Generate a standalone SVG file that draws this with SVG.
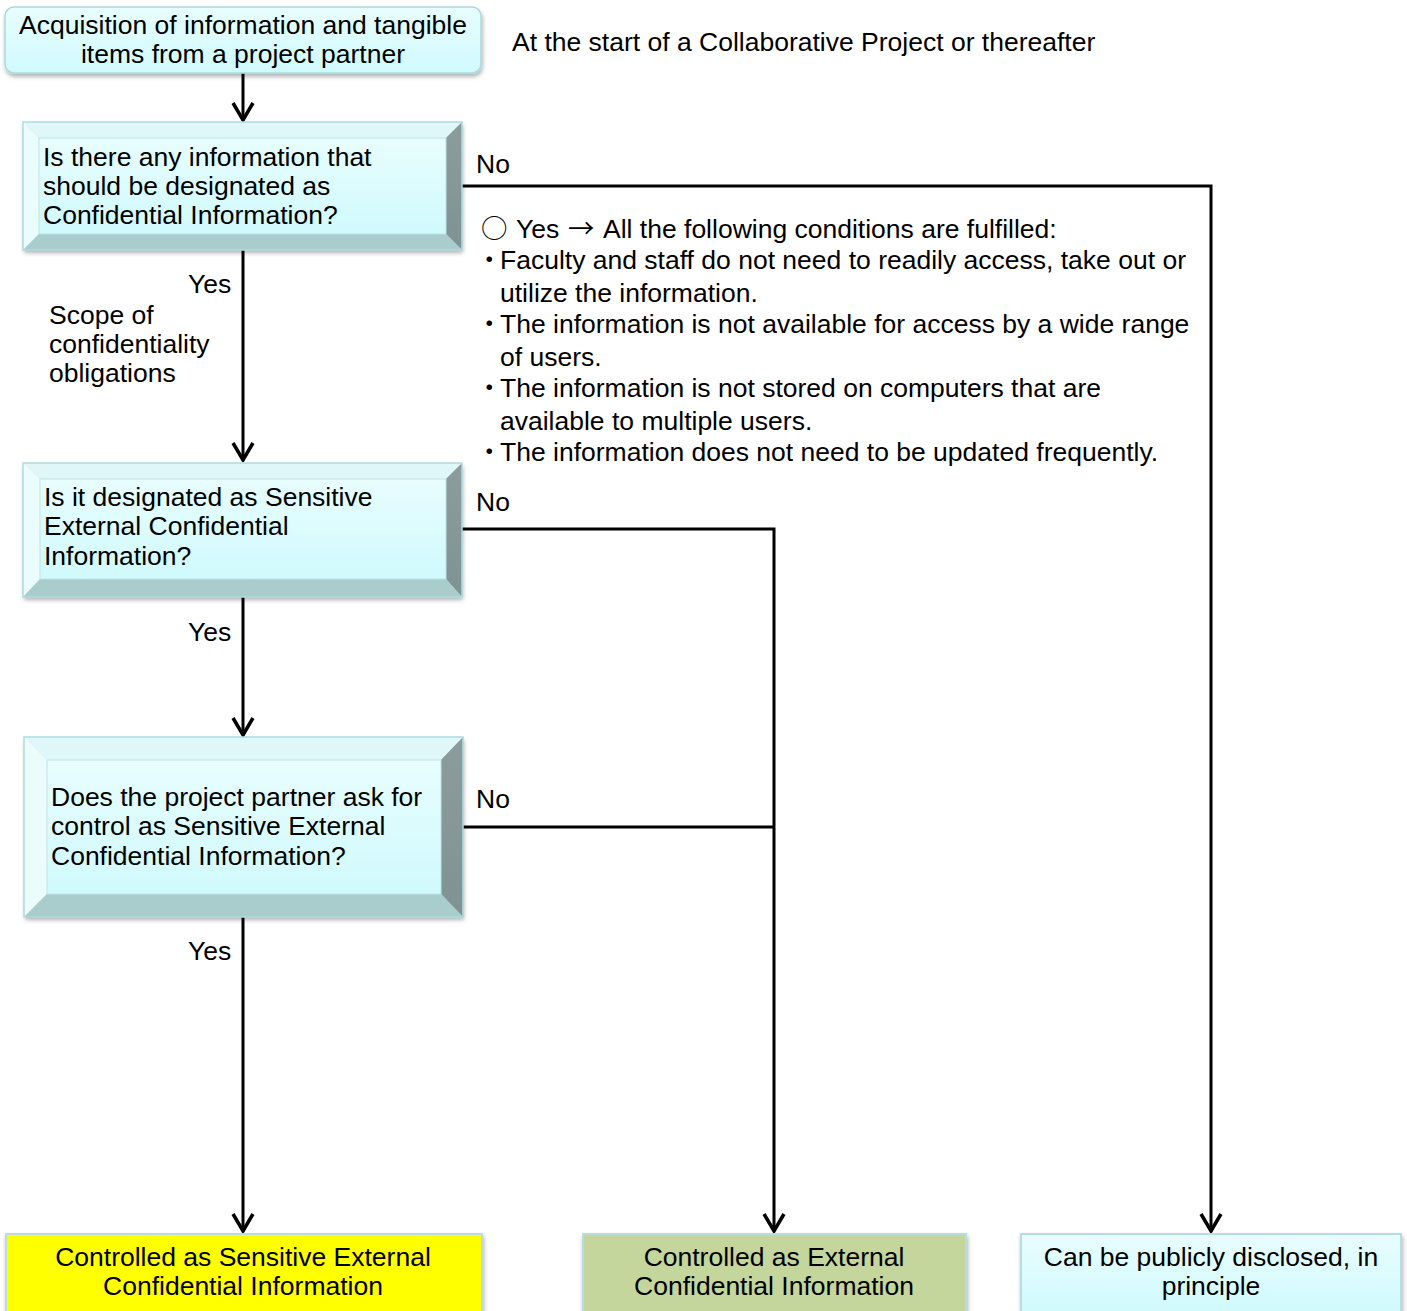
<svg xmlns="http://www.w3.org/2000/svg" width="1407" height="1311" viewBox="0 0 1407 1311">
<defs>
<linearGradient id="cyanG" x1="0" y1="0" x2="0" y2="1"><stop offset="0" stop-color="#e8fdfe"/><stop offset="1" stop-color="#d0fafd"/></linearGradient>
<linearGradient id="rightG" x1="0" y1="0" x2="0" y2="1"><stop offset="0" stop-color="#8c9c9c"/><stop offset="1" stop-color="#7f9394"/></linearGradient>
<filter id="sh" x="-5%" y="-5%" width="110%" height="120%"><feDropShadow dx="1" dy="3" stdDeviation="2" flood-color="#000" flood-opacity="0.3"/></filter>
<marker id="ah" viewBox="-20 -12 22 24" refX="0" refY="0" markerWidth="22" markerHeight="24" markerUnits="userSpaceOnUse" orient="auto">
<path d="M-17,-10 L0,0 L-17,10" fill="none" stroke="#000" stroke-width="3.5"/>
</marker>
<style>
text{font-family:"Liberation Sans",Arial,sans-serif;font-size:26.5px;fill:#000}
.c{text-anchor:middle}
.line{fill:none;stroke:#000;stroke-width:3}
.top{fill:#dff7f8}
.left{fill:#ebfcfc}
.right{fill:url(#rightG)}
.bot{fill:#a9cdcd}
.inner{fill:url(#cyanG);stroke:#bfe3e5;stroke-width:1}
.outer{fill:none;stroke:#b0dcde;stroke-width:1.5}
.cjk{font-family:"Noto Sans CJK JP","Liberation Sans",sans-serif}
</style>
</defs>
<rect width="1407" height="1311" fill="#fff"/>

<g id="connectors">
<line class="line" x1="243" y1="73" x2="243" y2="120" marker-end="url(#ah)"/>
<line class="line" x1="243" y1="250" x2="243" y2="460" marker-end="url(#ah)"/>
<line class="line" x1="243" y1="597" x2="243" y2="735" marker-end="url(#ah)"/>
<line class="line" x1="243" y1="917" x2="243" y2="1231" marker-end="url(#ah)"/>
<polyline class="line" points="462,186 1211,186 1211,1231" marker-end="url(#ah)"/>
<polyline class="line" points="462,529 774,529 774,1231" marker-end="url(#ah)"/>
<line class="line" x1="463" y1="827" x2="774" y2="827"/>
</g>

<g id="start">
<rect x="5" y="7" width="476" height="66" rx="9" fill="url(#cyanG)" stroke="#acd9dc" stroke-width="1.5" filter="url(#sh)"/>
<text class="c" x="243" y="34">Acquisition of information and tangible</text>
<text class="c" x="243" y="63">items from a project partner</text>
</g>

<g id="note-start"><text x="512" y="51">At the start of a Collaborative Project or thereafter</text></g>

<g id="q1">
<g filter="url(#sh)">
<polygon class="top" points="23,122 462,122 446,138 39,138"/>
<polygon class="left" points="23,122 39,138 39,234 23,250"/>
<polygon class="right" points="462,122 462,250 446,234 446,138"/>
<polygon class="bot" points="23,250 39,234 446,234 462,250"/>
</g>
<rect class="inner" x="39" y="138" width="407" height="96"/>
<rect class="outer" x="23" y="122" width="439" height="128"/>
<text x="43" y="166">Is there any information that</text>
<text x="43" y="195">should be designated as</text>
<text x="43" y="224">Confidential Information?</text>
</g>

<g id="q2">
<g filter="url(#sh)">
<polygon class="top" points="23,463 462,463 446,479 40,479"/>
<polygon class="left" points="23,463 40,479 40,579 23,597"/>
<polygon class="right" points="462,463 462,597 446,579 446,479"/>
<polygon class="bot" points="23,597 40,579 446,579 462,597"/>
</g>
<rect class="inner" x="40" y="479" width="406" height="100"/>
<rect class="outer" x="23" y="463" width="439" height="134"/>
<text x="44" y="506">Is it designated as Sensitive</text>
<text x="44" y="535">External Confidential</text>
<text x="44" y="565">Information?</text>
</g>

<g id="q3">
<g filter="url(#sh)">
<polygon class="top" points="24,737 463,737 441,760 47,760"/>
<polygon class="left" points="24,737 47,760 47,894 24,917"/>
<polygon class="right" points="463,737 463,917 441,894 441,760"/>
<polygon class="bot" points="24,917 47,894 441,894 463,917"/>
</g>
<rect class="inner" x="47" y="760" width="394" height="134"/>
<rect class="outer" x="24" y="737" width="439" height="180"/>
<text x="51" y="806">Does the project partner ask for</text>
<text x="51" y="835">control as Sensitive External</text>
<text x="51" y="865">Confidential Information?</text>
</g>

<g id="labels">
<text x="476" y="173">No</text>
<text x="476" y="511">No</text>
<text x="476" y="808">No</text>
<text x="188" y="293">Yes</text>
<text x="188" y="641">Yes</text>
<text x="188" y="960">Yes</text>
<text x="49" y="324">Scope of</text>
<text x="49" y="353">confidentiality</text>
<text x="49" y="382">obligations</text>
</g>

<g id="conditions">
<text x="481" y="238"><tspan class="cjk">○</tspan><tspan x="516">Yes</tspan><tspan class="cjk" x="568">→</tspan><tspan x="603">All the following conditions are fulfilled:</tspan></text>
<text x="476" y="269"><tspan class="cjk">・</tspan><tspan x="500">Faculty and staff do not need to readily access, take out or</tspan></text>
<text x="500" y="302">utilize the information.</text>
<text x="476" y="333"><tspan class="cjk">・</tspan><tspan x="500">The information is not available for access by a wide range</tspan></text>
<text x="500" y="366">of users.</text>
<text x="476" y="397"><tspan class="cjk">・</tspan><tspan x="500">The information is not stored on computers that are</tspan></text>
<text x="500" y="430">available to multiple users.</text>
<text x="476" y="461"><tspan class="cjk">・</tspan><tspan x="500">The information does not need to be updated frequently.</tspan></text>
</g>

<g id="out-sensitive">
<rect x="6" y="1234" width="476" height="80" fill="#ffff00" stroke="#b7dde0" stroke-width="2" filter="url(#sh)"/>
<text class="c" x="243" y="1266">Controlled as Sensitive External</text>
<text class="c" x="243" y="1295">Confidential Information</text>
</g>

<g id="out-external">
<rect x="583" y="1234" width="383" height="80" fill="#c4d69b" stroke="#b7dde0" stroke-width="2" filter="url(#sh)"/>
<text class="c" x="774" y="1266">Controlled as External</text>
<text class="c" x="774" y="1295">Confidential Information</text>
</g>

<g id="out-public">
<rect x="1021" y="1234" width="380" height="80" fill="url(#cyanG)" stroke="#b7dde0" stroke-width="2" filter="url(#sh)"/>
<text class="c" x="1211" y="1266">Can be publicly disclosed, in</text>
<text class="c" x="1211" y="1295">principle</text>
</g>
</svg>
